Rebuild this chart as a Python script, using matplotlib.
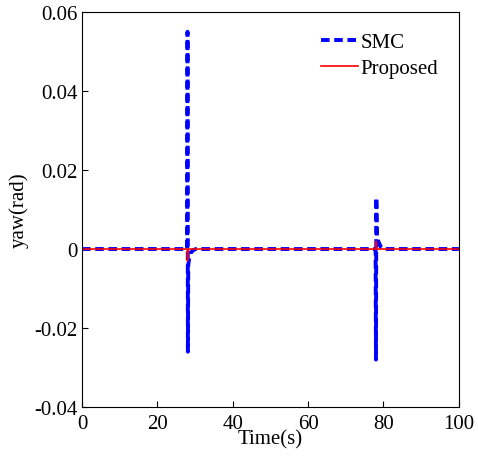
import numpy as np
import matplotlib
matplotlib.use("Agg")
import matplotlib.pyplot as plt

plt.rcParams["font.family"] = ["Liberation Serif", "DejaVu Serif"]
plt.rcParams["font.size"] = 15

# SMC yaw response (rad)
smc_t = [0, 27.9, 28.0, 28.1, 28.2, 28.35, 28.8, 29.5, 30.2, 77.9, 78.0, 78.1, 78.25, 78.6, 79.3, 80.0, 100]
smc_yaw = [0, 0, 0.055, -0.026, -0.004, -0.003, -0.001, -0.0003, 0, 0, -0.028, 0.013, 0.003, 0.002, 0.0005, 0, 0]

# Proposed controller yaw response (rad)
prop_t = [0, 27.95, 28.0, 28.1, 28.3, 78.0, 78.05, 78.15, 78.4, 100]
prop_yaw = [0, 0, -0.003, -0.001, 0, 0, 0.002, 0.0005, 0, 0]

fig = plt.figure(figsize=(4.78, 4.6), dpi=100)
ax = fig.add_axes([0.1715, 0.113, 0.7885, 0.8587])

ax.plot(smc_t, smc_yaw, color="blue", linestyle="--", linewidth=2.8, dashes=(2.2, 1.2), label="SMC")
ax.plot(prop_t, prop_yaw, color="red", linewidth=1.2, label="Proposed")

ax.set_xlim(0, 100)
ax.set_ylim(-0.04, 0.06)
ax.set_xticks([0, 20, 40, 60, 80, 100])
ax.set_yticks([-0.04, -0.02, 0, 0.02, 0.04, 0.06])
ax.set_yticklabels(["-0.04", "-0.02", "0", "0.02", "0.04", "0.06"])
ax.tick_params(direction="in", length=4, pad=3)
ax.tick_params(axis="x", pad=5)
ax.set_xlabel("Time(s)", labelpad=-3)
ax.set_ylabel("yaw(rad)", labelpad=4)
ax.legend(loc="upper right", frameon=False, handlelength=1.8, handletextpad=0.1,
          labelspacing=0.3, borderaxespad=0.6)

fig.savefig("out.png", dpi=100)
